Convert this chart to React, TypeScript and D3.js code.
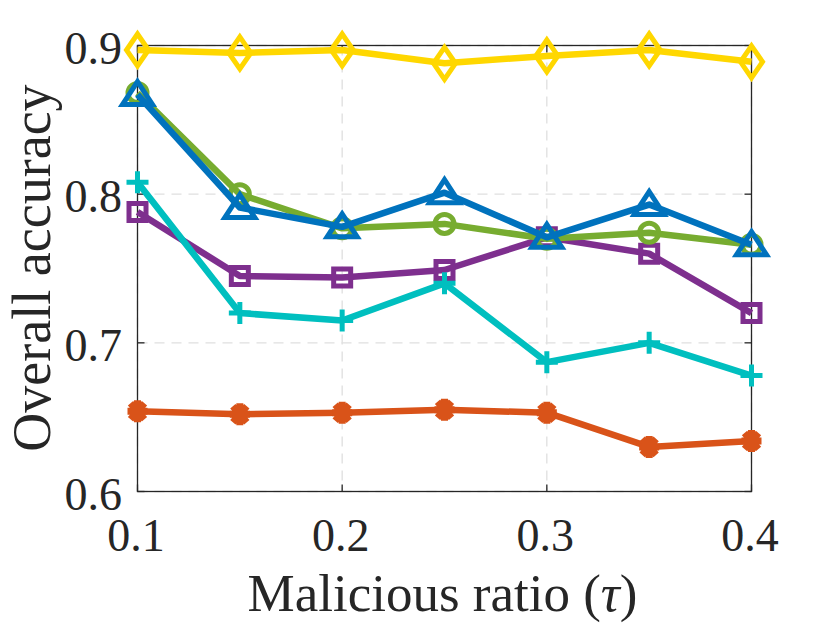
import { useEffect, useRef } from "react";
import * as d3 from "d3";

// malicious ratio (tau) on the x axis
const ratios = [0.1, 0.15, 0.2, 0.25, 0.3, 0.35, 0.4];

// overall accuracy per method
const seriesOrange = [0.654, 0.652, 0.653, 0.655, 0.653, 0.63, 0.634];
const seriesPurple = [0.788, 0.745, 0.744, 0.749, 0.771, 0.76, 0.72];
const seriesCyan = [0.808, 0.72, 0.715, 0.74, 0.687, 0.7, 0.678];
const seriesGreen = [0.868, 0.8, 0.777, 0.78, 0.77, 0.774, 0.766];
const seriesBlue = [0.867, 0.791, 0.778, 0.801, 0.771, 0.793, 0.766];
const seriesYellow = [0.897, 0.895, 0.897, 0.888, 0.893, 0.897, 0.889];

const xTicks = [0.1, 0.2, 0.3, 0.4];
const yTicks = [0.6, 0.7, 0.8, 0.9];

type MarkerKind = "asterisk" | "square" | "plus" | "circle" | "triangle" | "diamond";

interface Series {
  values: number[];
  color: string;
  marker: MarkerKind;
}

const seriesList: Series[] = [
  { values: seriesOrange, color: "#D95319", marker: "asterisk" },
  { values: seriesPurple, color: "#7E2F8E", marker: "square" },
  { values: seriesCyan, color: "#00BFBF", marker: "plus" },
  { values: seriesGreen, color: "#77AC30", marker: "circle" },
  { values: seriesBlue, color: "#0072BD", marker: "triangle" },
  { values: seriesYellow, color: "#FFD700", marker: "diamond" },
];

const FONT = "'Liberation Serif', 'Times New Roman', serif";

function markerPath(kind: MarkerKind): string {
  switch (kind) {
    case "diamond":
      return "M0,-16 L11,0 L0,16 L-11,0 Z";
    case "triangle":
      return "M0,-13 L15,10 L-15,10 Z";
    case "square":
      return "M-8.5,-8.5 L8.5,-8.5 L8.5,8.5 L-8.5,8.5 Z";
    case "plus":
      return "M-11,0 L11,0 M0,-11 L0,11";
    case "asterisk":
      return "M-10,0 L10,0 M0,-11 L0,11 M-7,-8 L7,8 M-7,8 L7,-8";
    default:
      return "";
  }
}

export default function App() {
  const svgRef = useRef<SVGSVGElement>(null);
  const width = 830;
  const height = 623;

  useEffect(() => {
    if (!svgRef.current) return;
    const svg = d3.select(svgRef.current);
    svg.selectAll("*").remove();

    const left = 137.5;
    const right = 751.5;
    const top = 45.5;
    const bottom = 491.5;

    const x = d3.scaleLinear().domain([0.1, 0.4]).range([left, right]);
    const y = d3.scaleLinear().domain([0.6, 0.9]).range([bottom, top]);

    svg.append("rect").attr("width", width).attr("height", height).attr("fill", "#fff");

    // dashed grid
    const grid = svg.append("g");
    grid
      .selectAll("line.gx")
      .data(xTicks)
      .enter()
      .append("line")
      .attr("x1", (d) => x(d))
      .attr("x2", (d) => x(d))
      .attr("y1", top)
      .attr("y2", bottom)
      .attr("stroke", "#dfdfdf")
      .attr("stroke-width", 1.3)
      .attr("stroke-dasharray", "10,7");
    grid
      .selectAll("line.gy")
      .data(yTicks)
      .enter()
      .append("line")
      .attr("x1", left)
      .attr("x2", right)
      .attr("y1", (d) => y(d))
      .attr("y2", (d) => y(d))
      .attr("stroke", "#dfdfdf")
      .attr("stroke-width", 1.3)
      .attr("stroke-dasharray", "10,7");

    // box and inward ticks
    const axis = svg.append("g").attr("stroke", "#262626").attr("stroke-width", 1.3);
    axis
      .append("rect")
      .attr("x", left)
      .attr("y", top)
      .attr("width", right - left)
      .attr("height", bottom - top)
      .attr("fill", "none");
    const tickLen = 7;
    xTicks.forEach((t) => {
      axis.append("line").attr("x1", x(t)).attr("x2", x(t)).attr("y1", bottom).attr("y2", bottom - tickLen);
      axis.append("line").attr("x1", x(t)).attr("x2", x(t)).attr("y1", top).attr("y2", top + tickLen);
    });
    yTicks.forEach((t) => {
      axis.append("line").attr("x1", left).attr("x2", left + tickLen).attr("y1", y(t)).attr("y2", y(t));
      axis.append("line").attr("x1", right).attr("x2", right - tickLen).attr("y1", y(t)).attr("y2", y(t));
    });

    // tick labels
    svg
      .selectAll("text.xt")
      .data(xTicks)
      .enter()
      .append("text")
      .attr("x", (d) => x(d) - 1.5)
      .attr("y", 551)
      .attr("text-anchor", "middle")
      .style("font-family", FONT)
      .style("font-size", "46px")
      .attr("fill", "#262626")
      .text((d) => d3.format(".1f")(d));
    svg
      .selectAll("text.yt")
      .data(yTicks)
      .enter()
      .append("text")
      .attr("x", 122)
      .attr("y", (d) => y(d) + 18)
      .attr("text-anchor", "end")
      .style("font-family", FONT)
      .style("font-size", "46px")
      .attr("fill", "#262626")
      .text((d) => d3.format(".1f")(d));

    // axis titles
    const xTitle = svg
      .append("text")
      .attr("x", 442.5)
      .attr("y", 611)
      .attr("text-anchor", "middle")
      .style("font-family", FONT)
      .style("font-size", "53px")
      .attr("fill", "#262626");
    xTitle.append("tspan").text("Malicious ratio (");
    xTitle.append("tspan").style("font-style", "italic").text("\u03C4");
    xTitle.append("tspan").text(")");

    svg
      .append("text")
      .attr("transform", "translate(50,268) rotate(-90)")
      .attr("text-anchor", "middle")
      .style("font-family", FONT)
      .style("font-size", "54px")
      .attr("fill", "#262626")
      .text("Overall accuracy");

    // series
    const line = d3
      .line<number>()
      .x((_d, i) => x(ratios[i]))
      .y((d) => y(d));

    seriesList.forEach((s) => {
      const g = svg.append("g");
      g.append("path")
        .attr("d", line(s.values) || "")
        .attr("fill", "none")
        .attr("stroke", s.color)
        .attr("stroke-width", 6.5)
        .attr("stroke-linejoin", "round");

      const marks = g
        .selectAll("g.m")
        .data(s.values)
        .enter()
        .append("g")
        .attr("transform", (d, i) => `translate(${x(ratios[i])},${y(d)})`);

      if (s.marker === "circle") {
        marks
          .append("circle")
          .attr("r", 9.5)
          .attr("fill", "none")
          .attr("stroke", s.color)
          .attr("stroke-width", 5);
      } else {
        marks
          .append("path")
          .attr("d", markerPath(s.marker))
          .attr("fill", "none")
          .attr("stroke", s.color)
          .attr("stroke-width", s.marker === "asterisk" ? 7 : 5)
          .attr("stroke-linejoin", "miter");
      }
    });
  }, []);

  return (
    <svg
      ref={svgRef}
      width={width}
      height={height}
      style={{ position: "absolute", left: 0, top: 0 }}
    />
  );
}
